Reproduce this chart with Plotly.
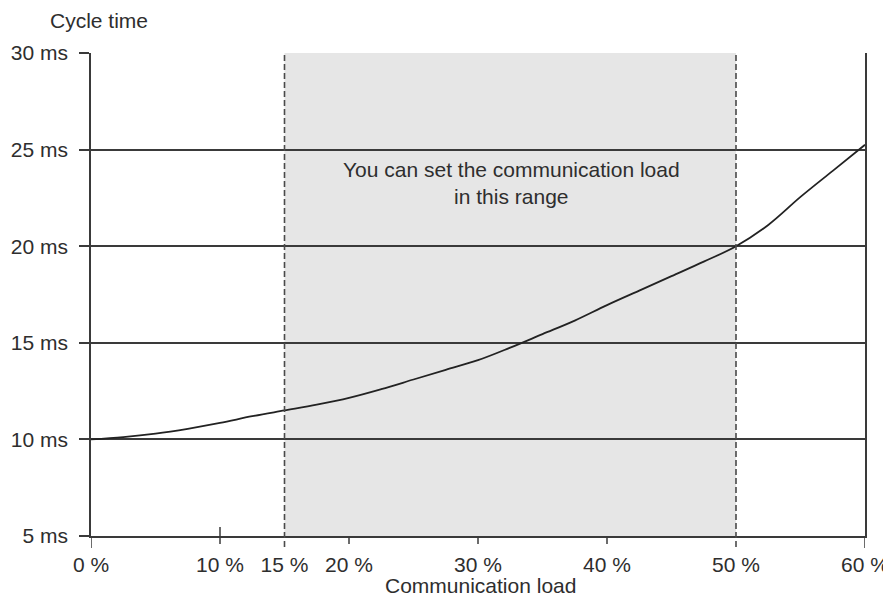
import plotly.graph_objects as go

# Data
load_pct = [0, 2.5, 5, 7.5, 10, 12.5, 15, 17.5, 20, 22.5, 25, 27.5, 30, 32.5, 35,
            37.5, 40, 42.5, 45, 47.5, 50, 52.5, 55, 57.5, 60]
cycle_ms = [10.0, 10.12, 10.3, 10.55, 10.85, 11.2, 11.5, 11.8, 12.15, 12.6, 13.1,
            13.6, 14.1, 14.75, 15.45, 16.15, 16.95, 17.7, 18.45, 19.2, 20.0, 21.1,
            22.55, 23.9, 25.25]
x_ticks = [0, 10, 15, 20, 30, 40, 50, 60]
x_labels = ["0 %", "10 %", "15 %", "20 %", "30 %", "40 %", "50 %", "60 %"]
y_ticks = [5, 10, 15, 20, 25, 30]
y_labels = ["5 ms", "10 ms", "15 ms", "20 ms", "25 ms", "30 ms"]
range_lo, range_hi = 15, 50

FONT = "Liberation Sans, Arial, sans-serif"
TXT = "#2e2e2e"
LINE = "#3a3a3a"
FS = 21

fig = go.Figure()
fig.add_trace(go.Scatter(x=load_pct, y=cycle_ms, mode="lines",
                         line=dict(color="#222222", width=1.8, shape="spline"),
                         hoverinfo="skip", showlegend=False))

H = 483.0
W = 774.0
def px(p):
    return p / H

shapes = [
    dict(type="rect", xref="x", yref="paper", x0=range_lo, x1=range_hi, y0=0, y1=1,
         fillcolor="#e6e6e6", line=dict(width=0), layer="below"),
]
for xv in (range_lo, range_hi):
    shapes.append(dict(type="line", xref="x", yref="paper", x0=xv, x1=xv,
                       y0=-px(11), y1=1, line=dict(color="#4a4a4a", width=1.6, dash="6px,3px")))
for xv in (0, 60):
    shapes.append(dict(type="line", xref="x", yref="paper", x0=xv, x1=xv,
                       y0=-px(12), y1=0, line=dict(color=LINE, width=1.5)))
for xv in (20, 30, 40):
    shapes.append(dict(type="line", xref="x", yref="paper", x0=xv, x1=xv,
                       y0=-px(8), y1=0, line=dict(color=LINE, width=1.5)))
shapes.append(dict(type="line", xref="x", yref="paper", x0=10, x1=10,
                   y0=-px(8), y1=px(9), line=dict(color=LINE, width=1.5)))

# the page body has an 8px margin, so the figure is sized to end at the window edge
fig.update_layout(
    width=883, height=599,
    margin=dict(l=83, r=26, t=45, b=71, autoexpand=False),
    paper_bgcolor="white", plot_bgcolor="rgba(0,0,0,0)",
    font=dict(family=FONT, size=FS, color=TXT),
    shapes=shapes,
    xaxis=dict(range=[0, 60], tickvals=x_ticks, ticktext=x_labels, automargin=False,
               showgrid=False, zeroline=False, showline=True, linecolor=LINE, linewidth=1.5,
               ticks="outside", ticklen=9, tickcolor="rgba(0,0,0,0)",
               tickfont=dict(size=FS, color=TXT)),
    yaxis=dict(range=[5, 30], tickvals=y_ticks, ticktext=y_labels, automargin=False,
               showgrid=True, gridcolor=LINE, gridwidth=1.5, zeroline=False,
               showline=True, linecolor=LINE, linewidth=1.5, mirror=True,
               ticks="outside", ticklen=10, tickcolor=LINE, tickwidth=1.5,
               ticklabelstandoff=7,
               tickfont=dict(size=FS, color=TXT)),
    annotations=[
        dict(text="Cycle time", xref="paper", yref="paper", x=(48 - 91) / W, y=1.0,
             xanchor="left", yanchor="middle", yshift=33, showarrow=False,
             font=dict(size=FS, color=TXT)),
        dict(text="Communication load", xref="paper", yref="paper", x=(480.5 - 91) / W, y=0,
             xanchor="center", yanchor="middle", yshift=-49, showarrow=False,
             font=dict(size=FS, color=TXT)),
        dict(text="You can set the communication load<br>in this range", xref="x", yref="y",
             x=32.6, y=23.25, showarrow=False, align="center",
             font=dict(size=FS, color=TXT)),
    ],
)

fig.write_html("out.html")
